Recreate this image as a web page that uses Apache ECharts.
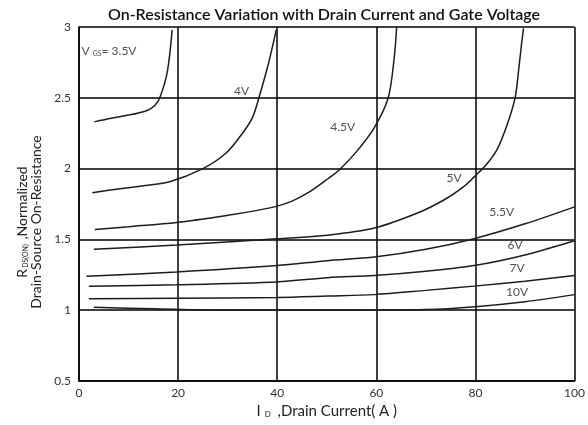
<!DOCTYPE html>
<html>
<head>
<meta charset="utf-8">
<title>On-Resistance Variation</title>
<script src="https://cdn.jsdelivr.net/npm/echarts@6/dist/echarts.min.js"></script>
<style>
  html, body { margin: 0; padding: 0; background: #fff; }
  #chart { width: 588px; height: 425px; }
</style>
</head>
<body>
<div id="chart"></div>
<script>
  // drain current (A) vs normalized Rds(on)
  var vgs35 = [[3.1, 2.33], [6.5, 2.355], [10.3, 2.38], [12, 2.393], [13.7, 2.41], [15.3, 2.446], [16.3, 2.5], [17.8, 2.68], [18.8, 2.98]];
  var vgs4 = [[2.7, 1.83], [6.7, 1.85], [13.4, 1.88], [18.3, 1.907], [25, 2.0], [29.7, 2.11], [33, 2.25], [35, 2.36], [36.3, 2.5], [38, 2.71], [39.1, 2.87], [39.8, 2.98]];
  var vgs45 = [[3.2, 1.57], [10, 1.59], [19.7, 1.62], [30, 1.67], [36, 1.705], [40, 1.735], [43, 1.77], [46.5, 1.835], [50.3, 1.93], [52.5, 1.99], [56, 2.12], [59.6, 2.29], [62.4, 2.5], [63.6, 2.78], [64.1, 3.0]];
  var vgs5 = [[3, 1.43], [19.7, 1.46], [40, 1.505], [50.2, 1.53], [59.6, 1.58], [68.3, 1.686], [73.7, 1.78], [77.7, 1.875], [79.7, 1.94], [82, 2.02], [84.3, 2.13], [86.3, 2.3], [88, 2.5], [88.7, 2.69], [89.3, 2.88], [89.7, 2.99]];
  var vgs55 = [[1.5, 1.24], [19.7, 1.27], [40, 1.315], [50.2, 1.35], [59.6, 1.375], [70, 1.43], [79.7, 1.505], [90, 1.61], [100, 1.73]];
  var vgs6 = [[2, 1.17], [19.7, 1.18], [40, 1.2], [50.2, 1.23], [59.6, 1.245], [70, 1.275], [79.7, 1.315], [90, 1.39], [100, 1.49]];
  var vgs7 = [[2, 1.08], [19.7, 1.085], [40, 1.09], [50.2, 1.1], [59.6, 1.11], [70, 1.14], [79.7, 1.17], [90, 1.205], [100, 1.245]];
  var vgs10 = [[3, 1.02], [15, 1.01], [30, 1.0], [50, 1.0], [70, 1.005], [80, 1.025], [90, 1.06], [100, 1.11]];

  // curve labels [current, rds, text]
  var curveLabels = [
    [0.5, 2.83, 'V {sub|GS}= 3.5V'],
    [32.8, 2.55, '4V'],
    [53.2, 2.29, '4.5V'],
    [75.7, 1.93, '5V'],
    [85.3, 1.69, '5.5V'],
    [88, 1.46, '6V'],
    [88.4, 1.3, '7V'],
    [88.4, 1.125, '10V'],
  ];

  var curves = [vgs35, vgs4, vgs45, vgs5, vgs55, vgs6, vgs7, vgs10];
  var fontName = 'Lato, "Open Sans", sans-serif';

  var chart = echarts.init(document.getElementById('chart'));

  var series = curves.map(function (d) {
    return {
      type: 'line',
      data: d,
      smooth: 0.3,
      showSymbol: false,
      lineStyle: { color: '#1c1c1c', width: 1.5 },
      silent: true,
      animation: false,
    };
  });

  var labelData = curveLabels.map(function (c, i) {
    var item = { value: c };
    if (i === 0) {
      item.label = { align: 'left' };
    }
    return item;
  });

  series.push({
    type: 'scatter',
    symbolSize: 0,
    data: labelData,
    animation: false,
    silent: true,
    label: {
      show: true,
      position: 'inside',
      formatter: function (p) {
        return p.value[2];
      },
      fontFamily: fontName,
      fontSize: 12,
      color: '#222',
      rich: {
        sub: { fontSize: 7, verticalAlign: 'bottom', padding: [5, 0, 0, 0], color: '#222', fontFamily: fontName },
      },
    },
  });

  chart.setOption({
    animation: false,
    title: {
      text: 'On-Resistance Variation with Drain Current and Gate Voltage',
      left: 319,
      textAlign: 'center',
      top: 2,
      textStyle: { fontFamily: fontName, fontSize: 16, fontWeight: 600, color: '#111' },
    },
    grid: { left: 79, right: 10, top: 27, bottom: 44 },
    xAxis: {
      type: 'value',
      min: 0,
      max: 100,
      interval: 20,
      name: 'I{sub|D} ,Drain Current( A )',
      nameLocation: 'middle',
      nameGap: 20,
      nameTextStyle: {
        fontFamily: fontName,
        fontSize: 15,
        color: '#222',
        rich: { sub: { fontSize: 8, verticalAlign: 'bottom', padding: [6, 3, 0, 4] } },
      },
      axisLine: { lineStyle: { color: '#000', width: 1.5 } },
      axisTick: { show: false },
      axisLabel: { fontFamily: fontName, fontSize: 12, color: '#333', margin: 6 },
      splitLine: { lineStyle: { color: '#000', width: 1.5 } },
    },
    yAxis: {
      type: 'value',
      min: 0.5,
      max: 3,
      interval: 0.5,
      name: 'R{sub|DS(ON)} ,Normalized\nDrain-Source On-Resistance',
      nameLocation: 'middle',
      nameRotate: 90,
      nameGap: 35,
      nameTextStyle: {
        fontFamily: fontName,
        fontSize: 14,
        color: '#222',
        lineHeight: 14,
        padding: [0, 36, 0, 0],
        rich: { sub: { fontSize: 7, verticalAlign: 'bottom', padding: [5, 1, 0, 1] } },
      },
      axisLine: { lineStyle: { color: '#000', width: 1.5 } },
      axisTick: { show: false },
      axisLabel: { fontFamily: fontName, fontSize: 12, color: '#333', margin: 8 },
      splitLine: { lineStyle: { color: '#000', width: 1.5 } },
    },
    series: series,
  });
</script>
</body>
</html>
